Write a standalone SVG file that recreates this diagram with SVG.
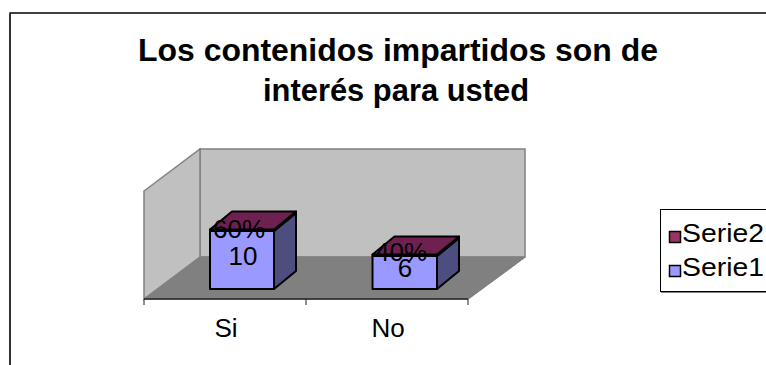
<svg xmlns="http://www.w3.org/2000/svg" width="766" height="365" viewBox="0 0 766 365">
<style>
.t{font-family:"Liberation Sans",Arial,sans-serif;fill:#000}
.title{font-size:32px;font-weight:bold}
.lbl{font-size:26px}
.leg{font-size:26px}
.wall{fill:#C0C0C0;stroke:#808080;stroke-width:1.5}
.floor{fill:#808080;stroke:#808080;stroke-width:1}
.edge{stroke:#000;stroke-width:2;stroke-linejoin:round}
.front{fill:#9999FF}
.side{fill:#4D4D80}
.top{fill:#6E2050}
.s2{fill:#993366}
</style>
<rect width="766" height="365" fill="#fff"/>
<g id="frame">
<line x1="10" y1="13" x2="766" y2="13" stroke="#000" stroke-width="1.5"/>
<line x1="10" y1="12.5" x2="10" y2="365" stroke="#333" stroke-width="2"/>
</g>
<g id="title">
<text class="t title" x="398" y="61" text-anchor="middle" textLength="520" lengthAdjust="spacingAndGlyphs">Los contenidos impartidos son de</text>
<text class="t title" x="396" y="101" text-anchor="middle" textLength="266" lengthAdjust="spacingAndGlyphs">interés para usted</text>
</g>
<g id="plot-area">
<polygon class="wall" points="200,149 525,149 525,257 200,257"/>
<polygon class="wall" points="144,299 144,191 200,149 200,257"/>
<polygon class="floor" points="144,299 200,257 525,257 468,299"/>
<polyline points="468,299 525,257" fill="none" stroke="#808080" stroke-width="1.5"/>
<line x1="144" y1="299" x2="468" y2="299" stroke="#222" stroke-width="1.5"/>
<line x1="144" y1="299" x2="144" y2="305" stroke="#222" stroke-width="1"/>
<line x1="306" y1="299" x2="306" y2="305" stroke="#222" stroke-width="1"/>
<line x1="468" y1="299" x2="468" y2="305" stroke="#222" stroke-width="1"/>
</g>
<g id="bar-si">
<rect class="front edge" x="210" y="231" width="64" height="58"/>
<polygon class="side edge" points="274,231 296,213 296,271 274,289"/>
<polygon class="s2 edge" points="210,229.5 274,229.5 274,231 210,231"/>
<polygon class="top edge" points="274,229.5 296,211.5 296,213 274,231"/>
<polygon class="top edge" points="210,229.5 274,229.5 296,211.5 232,211.5"/>
<text class="t lbl" x="239" y="238" text-anchor="middle">60%</text>
<text class="t lbl" x="243" y="265" text-anchor="middle">10</text>
</g>
<g id="bar-no">
<rect class="front edge" x="372.5" y="256" width="64.5" height="33"/>
<polygon class="side edge" points="437,256 459,238 459,271 437,289"/>
<polygon class="s2 edge" points="372.5,254.5 437,254.5 437,256 372.5,256"/>
<polygon class="top edge" points="437,254.5 459,236.5 459,238 437,256"/>
<polygon class="top edge" points="372.5,254.5 437,254.5 459,236.5 394.5,236.5"/>
<text class="t lbl" x="401" y="261" text-anchor="middle">40%</text>
<text class="t lbl" x="405" y="277" text-anchor="middle">6</text>
</g>
<g id="axis-labels">
<text class="t lbl" x="226" y="337" text-anchor="middle">Si</text>
<text class="t lbl" x="388" y="337" text-anchor="middle">No</text>
</g>
<g id="legend">
<rect x="660.5" y="209.5" width="120" height="82" fill="#fff" stroke="#000" stroke-width="1"/>
<line x1="661" y1="292.5" x2="766" y2="292.5" stroke="#808080" stroke-width="1"/>
<rect x="669.5" y="231.5" width="11" height="11" class="s2" stroke="#000" stroke-width="1.5"/>
<text class="t leg" x="682" y="242" textLength="82" lengthAdjust="spacingAndGlyphs">Serie2</text>
<rect x="669.5" y="265.5" width="11" height="11" class="front" stroke="#000" stroke-width="1.5"/>
<text class="t leg" x="682" y="276" textLength="82" lengthAdjust="spacingAndGlyphs">Serie1</text>
</g>
</svg>
